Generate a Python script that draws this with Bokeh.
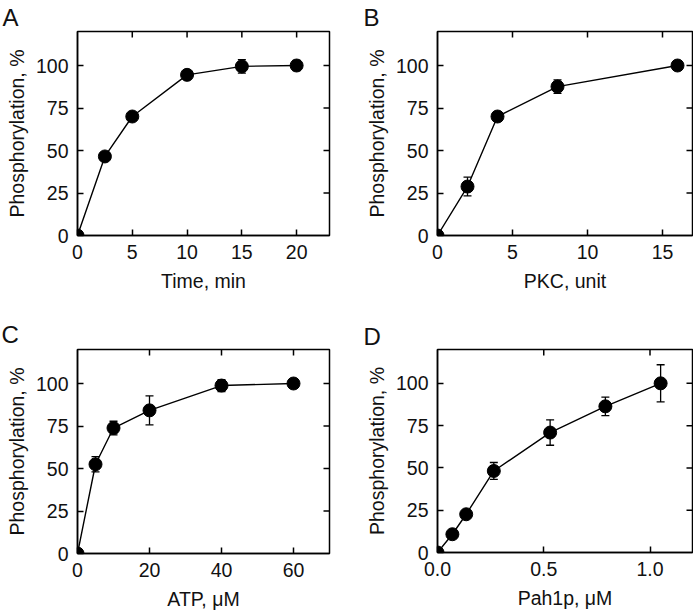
import math
from bokeh.plotting import figure
from bokeh.models import (ColumnDataSource, Whisker, TeeHead, FixedTicker,
                          PrintfTickFormatter, Range1d, Title)
from bokeh.layouts import column, row
from bokeh.embed import file_html
from bokeh.resources import INLINE

# ---- data ----
a_x = [0, 2.5, 5, 10, 15, 20]
a_y = [0, 46.5, 70, 94.5, 99.5, 100]
a_err = [0, 1.5, 1.5, 1.5, 4.0, 3.0]

b_x = [0, 2, 4, 8, 16]
b_y = [0, 28.8, 70, 87.6, 100]
b_err = [0, 5.5, 2.5, 4.0, 1.5]

c_x = [0, 5, 10, 20, 40, 60]
c_y = [0, 52.5, 73.8, 84.2, 98.8, 100]
c_err = [0, 4.5, 4.0, 8.5, 3.5, 1.0]

d_x = [0, 0.07, 0.135, 0.265, 0.53, 0.79, 1.05]
d_y = [0, 10.8, 22.6, 48.2, 70.9, 86.4, 100]
d_err = [0, 1.5, 1.5, 5.0, 7.5, 5.5, 11.0]

y_ticks = [0, 25, 50, 75, 100]
y_max = 120
a_xticks = [0, 5, 10, 15, 20]
b_xticks = [0, 5, 10, 15]
c_xticks = [0, 20, 40, 60]
d_xticks = [0, 0.5, 1.0]

FONT = "Liberation Sans"
FS = "19.5px"
INK = "#111111"


def panel(letter, xs, ys, errs, xticks, xmax, xlabel, fw, fh, bl, br, bt, bb,
          t_off, t_stand, xfmt=None):
    p = figure(frame_width=fw, frame_height=fh, output_backend="svg",
               toolbar_location=None, x_range=Range1d(0, xmax),
               y_range=Range1d(0, y_max), min_border_left=bl, min_border_right=br,
               min_border_top=bt, min_border_bottom=bb)
    p.grid.visible = False
    p.background_fill_color = "white"
    p.border_fill_color = "white"
    p.outline_line_color = "black"
    p.outline_line_width = 1.5

    for ax, ticks in ((p.xaxis[0], xticks), (p.yaxis[0], y_ticks)):
        ax.ticker = FixedTicker(ticks=ticks)
        ax.major_tick_in = 6
        ax.major_tick_out = 0
        ax.minor_tick_line_color = None
        ax.axis_line_width = 1.5
        ax.major_tick_line_width = 1.5
        ax.major_label_text_font = FONT
        ax.major_label_text_font_size = FS
        ax.major_label_text_color = INK
        ax.axis_label_text_font = FONT
        ax.axis_label_text_font_size = FS
        ax.axis_label_text_font_style = "normal"
        ax.axis_label_text_color = INK
        ax.major_label_standoff = 9
    p.xaxis[0].axis_label_standoff = 8
    p.yaxis[0].axis_label_standoff = 5
    p.xaxis[0].axis_label = xlabel
    p.yaxis[0].axis_label = "Phosphorylation, %"
    if xfmt:
        p.xaxis[0].formatter = PrintfTickFormatter(format=xfmt)

    # mirrored inward ticks on the top and right edges
    tx = [t for t in xticks if 0 < t < xmax]
    ty = [t for t in y_ticks if 0 < t < y_max]
    p.ray(x=tx, y=[y_max] * len(tx), length=6, length_units="screen",
          angle=-math.pi / 2, line_color="black", line_width=1.5)
    p.ray(x=[xmax] * len(ty), y=ty, length=6, length_units="screen",
          angle=math.pi, line_color="black", line_width=1.5)

    lower = [y - e for y, e in zip(ys, errs)]
    upper = [y + e for y, e in zip(ys, errs)]
    src = ColumnDataSource(dict(x=xs, y=ys, lower=lower, upper=upper))
    w = Whisker(base="x", lower="lower", upper="upper", source=src,
                line_color="black", line_width=1.3,
                upper_head=TeeHead(size=8, line_color="black", line_width=1.3),
                lower_head=TeeHead(size=8, line_color="black", line_width=1.3))
    p.add_layout(w)
    p.line("x", "y", source=src, line_color="black", line_width=1.4)
    p.scatter("x", "y", source=src, size=13, fill_color="black", line_color="black")

    p.add_layout(Title(text=letter, align="left", offset=t_off, standoff=t_stand,
                       vertical_align="bottom", text_font=FONT, text_font_size="24px",
                       text_font_style="normal", text_color=INK), "above")
    return p


pa = panel("A", a_x, a_y, a_err, a_xticks, 23, "Time, min", 252, 204, 77, 15, 30, 66, -75, 2)
pb = panel("B", b_x, b_y, b_err, b_xticks, 17, "PKC, unit", 255, 204, 93, 1, 30, 66, -74, 2)
pc = panel("C", c_x, c_y, c_err, c_xticks, 70, "ATP, \u03bcM", 252, 204, 77, 15, 48, 60, -76, 3)
pd = panel("D", d_x, d_y, d_err, d_xticks, 1.2, "Pah1p, \u03bcM", 255, 203, 93, 1, 45, 64, -74, 0,
           xfmt="%.1f")

layout = column(row(pa, pb), row(pc, pd))
open("out.html", "w").write(file_html(layout, INLINE))
